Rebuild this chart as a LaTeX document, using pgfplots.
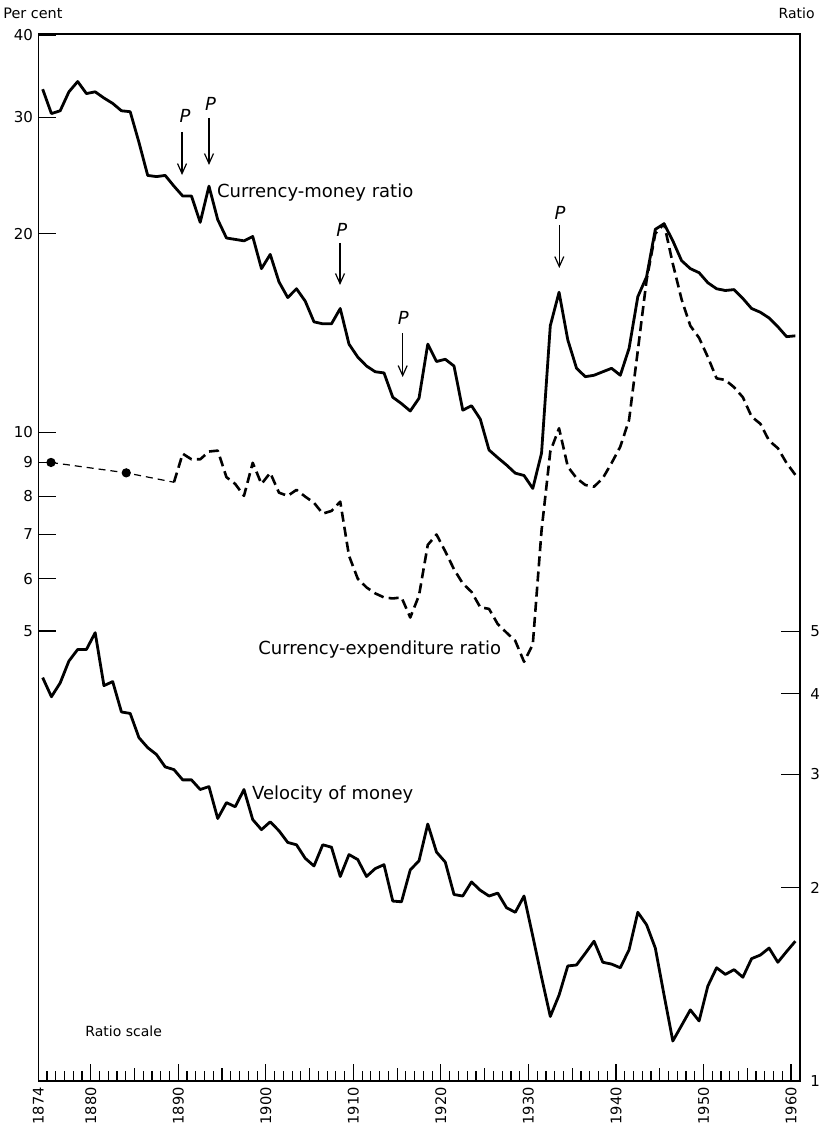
\documentclass[border=0pt]{standalone}
\usepackage{fontspec}
\setmainfont{DejaVu Sans}
\usepackage{pgfplots}
\pgfplotsset{compat=1.18}
\usepackage{pgfplotstable}
\usetikzlibrary{arrows.meta}

% Currency-money ratio (per cent)
\pgfplotstableread{
year v
1874 33.1
1875 30.4
1876 30.7
1877 32.8
1878 34.0
1879 32.6
1880 32.8
1881 32.1
1882 31.5
1883 30.7
1884 30.6
1885 27.5
1886 24.5
1887 24.4
1888 24.5
1889 23.6
1890 22.8
1891 22.8
1892 20.8
1893 23.6
1894 21.0
1895 19.7
1896 19.6
1897 19.5
1898 19.8
1899 17.7
1900 18.6
1901 16.9
1902 16.0
1903 16.5
1904 15.8
1905 14.7
1906 14.6
1907 14.6
1908 15.4
1909 13.6
1910 13.0
1911 12.6
1912 12.35
1913 12.3
1914 11.3
1915 11.05
1916 10.77
1917 11.26
1918 13.6
1919 12.8
1920 12.9
1921 12.6
1922 10.8
1923 10.97
1924 10.47
1925 9.4
1926 9.15
1927 8.92
1928 8.67
1929 8.6
1930 8.22
1931 9.3
1932 14.5
1933 16.3
1934 13.8
1935 12.5
1936 12.14
1937 12.2
1938 12.35
1939 12.5
1940 12.2
1941 13.4
1942 16.05
1943 17.2
1944 20.3
1945 20.7
1946 19.5
1947 18.2
1948 17.7
1949 17.45
1950 16.85
1951 16.5
1952 16.4
1953 16.45
1954 15.95
1955 15.4
1956 15.2
1957 14.9
1958 14.45
1959 13.96
1960 14.0
}\cmtable

% Currency-expenditure ratio (per cent), annual part
\pgfplotstableread{
year v
1889 8.4
1890 9.28
1891 9.1
1892 9.1
1893 9.35
1894 9.38
1895 8.55
1896 8.35
1897 8.01
1898 8.99
1899 8.35
1900 8.68
1901 8.1
1902 8.01
1903 8.18
1904 7.99
1905 7.82
1906 7.53
1907 7.6
1908 7.85
1909 6.5
1910 6.0
1911 5.82
1912 5.7
1913 5.62
1914 5.6
1915 5.62
1916 5.24
1917 5.66
1918 6.75
1919 7.0
1920 6.6
1921 6.2
1922 5.9
1923 5.73
1924 5.43
1925 5.4
1926 5.12
1927 4.97
1928 4.83
1929 4.49
1930 4.77
1931 7.1
1932 9.35
1933 10.14
1934 8.87
1935 8.52
1936 8.32
1937 8.27
1938 8.52
1939 8.98
1940 9.51
1941 10.44
1942 13.3
1943 17.0
1944 20.0
1945 20.7
1946 18.0
1947 15.9
1948 14.5
1949 13.9
1950 13.0
1951 12.07
1952 12.0
1953 11.7
1954 11.3
1955 10.56
1956 10.3
1957 9.71
1958 9.46
1959 8.98
1960 8.62
}\cetable

% Currency-expenditure ratio, benchmark years
\pgfplotstableread{
year v
1874.95 9.0
1883.55 8.68
1889 8.4
}\cebench

% Velocity of money (ratio)
\pgfplotstableread{
year v
1874 4.24
1875 3.96
1876 4.16
1877 4.50
1878 4.69
1879 4.69
1880 4.98
1881 4.12
1882 4.18
1883 3.75
1884 3.73
1885 3.42
1886 3.30
1887 3.22
1888 3.08
1889 3.05
1890 2.94
1891 2.94
1892 2.84
1893 2.87
1894 2.56
1895 2.71
1896 2.67
1897 2.84
1898 2.55
1899 2.46
1900 2.53
1901 2.45
1902 2.35
1903 2.33
1904 2.22
1905 2.16
1906 2.33
1907 2.31
1908 2.08
1909 2.25
1910 2.21
1911 2.08
1912 2.14
1913 2.17
1914 1.905
1915 1.9
1916 2.13
1917 2.20
1918 2.51
1919 2.27
1920 2.19
1921 1.95
1922 1.94
1923 2.04
1924 1.98
1925 1.94
1926 1.96
1927 1.86
1928 1.83
1929 1.94
1930 1.68
1931 1.45
1932 1.26
1933 1.36
1934 1.51
1935 1.515
1936 1.58
1937 1.65
1938 1.53
1939 1.52
1940 1.50
1941 1.60
1942 1.83
1943 1.75
1944 1.61
1945 1.36
1946 1.154
1947 1.22
1948 1.29
1949 1.24
1950 1.405
1951 1.50
1952 1.465
1953 1.49
1954 1.45
1955 1.55
1956 1.57
1957 1.61
1958 1.53
1959 1.59
1960 1.65
}\veltable

\begin{document}
\begin{tikzpicture}
\begin{axis}[
  at={(0,0)}, anchor=south west,
  scale only axis, width=380.85pt, height=523.5pt,
  xmin=1874, xmax=1961.03,
  ymode=log, ymin=1.040, ymax=40.13,
  axis line style={line width=0.75pt},
  tick align=inside,
  tick style={black, line width=0.6pt},
  yminorticks=false,
  clip=false,
  xtick pos=bottom, ytick pos=left,
  xtick={1874,1880,1890,1900,1910,1920,1930,1940,1950,1960},
  xticklabels={1874,1880,1890,1900,1910,1920,1930,1940,1950,1960},
  minor xtick={1875,1876,...,1960},
  extra x ticks={1885,1895,1905,1915,1925,1935,1945,1955},
  extra x tick labels={},
  extra x tick style={major tick length=6.7pt},
  major tick length=8.7pt, minor tick length=5pt,
  ytick={5,6,7,8,9,10,20,30,40},
  yticklabels={5,6,7,8,9,10,20,30,40},
  xticklabel style={rotate=90, anchor=east, inner sep=3pt, font=\fontsize{7.3}{8}\selectfont},
  yticklabel style={inner sep=2.5pt, font=\fontsize{7.5}{8}\selectfont},
]
\addplot[black, line width=1.4pt, line join=round, x filter/.expression={x+0.5}] table[x=year, y=v] {\cmtable};
\addplot[black, line width=1.3pt, dash pattern=on 5pt off 2.6pt, line join=round, x filter/.expression={x+0.5}] table[x=year, y=v] {\cetable};
\addplot[black, line width=0.6pt, dash pattern=on 3.5pt off 2.5pt, x filter/.expression={x+0.5},
  mark=*, mark size=2pt, mark indices={1,2}, mark options={solid}] table[x=year, y=v] {\cebench};

\node[anchor=west, inner sep=0pt, font=\fontsize{9}{10}\selectfont] at (rel axis cs:0.2342,0.8481) {Currency-money ratio};
\node[anchor=west, inner sep=0pt, font=\fontsize{9}{10}\selectfont] at (rel axis cs:0.2884,0.4119) {Currency-expenditure ratio};
\node[anchor=west, inner sep=0pt, font=\fontsize{9}{10}\selectfont] at (rel axis cs:0.2802,0.2732) {Velocity of money};
\node[anchor=west, inner sep=0pt, font=\fontsize{7}{8}\selectfont] at (rel axis cs:0.0614,0.0478) {Ratio scale};
\node[anchor=west, inner sep=0pt, font=\fontsize{7.2}{8}\selectfont] at (rel axis cs:-0.0463,1.0201) {Per cent};
\node[anchor=east, inner sep=0pt, font=\fontsize{7}{8}\selectfont] at (rel axis cs:1.0197,1.0201) {Ratio};

\node[inner sep=0pt, font=\fontsize{9}{10}\selectfont\itshape] at (rel axis cs:0.1926,0.9217) {P};
\draw[line width=0.6pt, -{Straight Barb[length=5pt,width=4.5pt]}] (rel axis cs:0.1887,0.9064) -- (rel axis cs:0.1887,0.8653);
\node[inner sep=0pt, font=\fontsize{9}{10}\selectfont\itshape] at (rel axis cs:0.2263,0.9332) {P};
\draw[line width=0.6pt, -{Straight Barb[length=5pt,width=4.5pt]}] (rel axis cs:0.2241,0.9198) -- (rel axis cs:0.2241,0.8749);
\node[inner sep=0pt, font=\fontsize{9}{10}\selectfont\itshape] at (rel axis cs:0.3983,0.8128) {P};
\draw[line width=0.6pt, -{Straight Barb[length=5pt,width=4.5pt]}] (rel axis cs:0.3961,0.8004) -- (rel axis cs:0.3961,0.7603);
\node[inner sep=0pt, font=\fontsize{9}{10}\selectfont\itshape] at (rel axis cs:0.4792,0.7284) {P};
\draw[line width=0.6pt, -{Straight Barb[length=5pt,width=4.5pt]}] (rel axis cs:0.4784,0.7144) -- (rel axis cs:0.4784,0.6724);
\node[inner sep=0pt, font=\fontsize{9}{10}\selectfont\itshape] at (rel axis cs:0.6849,0.8288) {P};
\draw[line width=0.6pt, -{Straight Barb[length=5pt,width=4.5pt]}] (rel axis cs:0.6840,0.8176) -- (rel axis cs:0.6840,0.7765);
\end{axis}

\begin{axis}[
  at={(0,0)}, anchor=south west,
  scale only axis, width=380.85pt, height=523.5pt,
  xmin=1874, xmax=1961.03,
  ymode=log, ymin=1, ymax=42.5,
  axis line style={line width=0.75pt},
  tick align=inside,
  tick style={black, line width=0.6pt},
  yminorticks=false,
  clip=false,
  xtick=\empty,
  ytick pos=right,
  ytick={1,2,3,4,5},
  yticklabels={1,2,3,4,5},
  major tick length=9.5pt,
  yticklabel style={anchor=west, inner sep=0pt, xshift=5pt, font=\fontsize{7.5}{8}\selectfont},
]
\addplot[black, line width=1.4pt, line join=round, x filter/.expression={x+0.5}] table[x=year, y=v] {\veltable};
\end{axis}

\pgfresetboundingbox
\path[use as bounding box] (-19.15pt,-21.5pt) rectangle (390.85pt,540.5pt);
\end{tikzpicture}
\end{document}
